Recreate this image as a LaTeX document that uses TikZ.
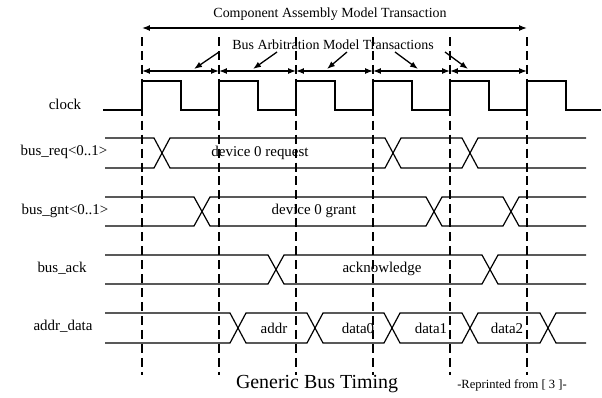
\documentclass[tikz,border=0pt]{standalone}
\usepackage{fontspec}
\setmainfont{Liberation Serif}
\usetikzlibrary{arrows.meta}
\tikzset{
  % --- Tin hieu ----------------------------------------------
  sig/.style={line width=1.2pt, line join=miter},
  tick/.style={dashed, dash pattern=on 9pt off 5pt, line width=1.4pt},
  siglab/.style={font=\fontsize{15}{17}\selectfont, inner sep=0pt},
  % --- Giao dich ---------------------------------------------
  tarr/.style={{Latex[length=8pt,width=6pt]}-{Latex[length=8pt,width=6pt]}, line width=1.3pt},
  ptr/.style={-{Latex[length=8pt,width=6pt]}, line width=1.3pt},
  toplab/.style={font=\fontsize{14}{16}\selectfont, inner sep=0pt}
}
\begin{document}
\begin{tikzpicture}[x=1bp, y=-1bp]
  \useasboundingbox (0,0) rectangle (602,397);

  % --- Moc thoi gian (duong dut) -------------------------------------
  \foreach \x [count=\i from 0] in {142,219,296,373,450,527} {
    \coordinate (t\i) at (\x,37);
    \coordinate (b\i) at (\x,375);
    \coordinate (a\i) at (\x,71);
    \draw[tick] (t\i) -- (b\i);
  }

  % --- Giao dich tren dau ---------------------------------------------
  \node[toplab] (cam) at (330,14) {Component Assembly Model Transaction};
  \coordinate (cl) at (142,28);
  \coordinate (cr) at (527,28);
  \draw[tarr] (cl) -- (cr);

  \node[toplab] (bam) at (333,45) {Bus Arbitration Model Transactions};
  \foreach \i/\j in {0/1,1/2,2/3,3/4,4/5} \draw[tarr] (a\i) -- (a\j);

  \foreach \sx/\ex [count=\k] in {219/194,277/253,347/327,395/418,445/468} {
    \coordinate (p\k) at (\sx,52);
    \coordinate (q\k) at (\ex,69);
    \draw[ptr] (p\k) -- (q\k);
  }

  % --- Ten tin hieu ---------------------------------------------------
  \node[siglab] (nclk) at (65,104) {clock};
  \node[siglab] (nreq) at (64,152) {bus\_req<0..1>};
  \node[siglab] (ngnt) at (65,211) {bus\_gnt<0..1>};
  \node[siglab] (nack) at (62,268) {bus\_ack};
  \node[siglab] (nad) at (63,326) {addr\_data};

  % --- clock ----------------------------------------------------------
  \draw[sig] (103,110) \foreach \x in {142,219,296,373,450,527} {
    -- (\x,110) -- (\x,81) -- (\x+39,81) -- (\x+39,110) } -- (601,110);

  % --- bus_req --------------------------------------------------------
  \draw[sig] (105,138) -- (154,138) -- (170,168) -- (385,168) -- (401,138) -- (462,138) -- (478,168) -- (586,168);
  \draw[sig] (105,168) -- (154,168) -- (170,138) -- (385,138) -- (401,168) -- (462,168) -- (478,138) -- (586,138);
  \node[siglab] (vreq) at (260,153) {device 0 request};

  % --- bus_gnt --------------------------------------------------------
  \draw[sig] (105,197) -- (194,197) -- (210,226) -- (426,226) -- (442,197) -- (503,197) -- (519,226) -- (586,226);
  \draw[sig] (105,226) -- (194,226) -- (210,197) -- (426,197) -- (442,226) -- (503,226) -- (519,197) -- (586,197);
  \node[siglab] (vgnt) at (314,211) {device 0 grant};

  % --- bus_ack --------------------------------------------------------
  \draw[sig] (105,255) -- (268,255) -- (284,284) -- (482,284) -- (498,255) -- (586,255);
  \draw[sig] (105,284) -- (268,284) -- (284,255) -- (482,255) -- (498,284) -- (586,284);
  \node[siglab] (vack) at (382,269) {acknowledge};

  % --- addr_data ------------------------------------------------------
  \draw[sig] (105,313) -- (230,313) -- (246,343) -- (307,343) -- (323,313) -- (384,313) -- (400,343) -- (462,343) -- (478,313) -- (540,313) -- (556,343) -- (586,343);
  \draw[sig] (105,343) -- (230,343) -- (246,313) -- (307,313) -- (323,343) -- (384,343) -- (400,313) -- (462,313) -- (478,343) -- (540,343) -- (556,313) -- (586,313);
  \node[siglab] (vaddr) at (274,328) {addr};
  \node[siglab] (vd0) at (358,328) {data0};
  \node[siglab] (vd1) at (431,328) {data1};
  \node[siglab] (vd2) at (507,328) {data2};

  % --- Chu thich ------------------------------------------------------
  \node[font=\fontsize{20}{22}\selectfont, inner sep=0pt] (ttl) at (317,384) {Generic Bus Timing};
  \node[font=\fontsize{12.6}{14}\selectfont, inner sep=0pt] (src) at (512,385) {-Reprinted from [ 3 ]-};

\end{tikzpicture}
\end{document}
